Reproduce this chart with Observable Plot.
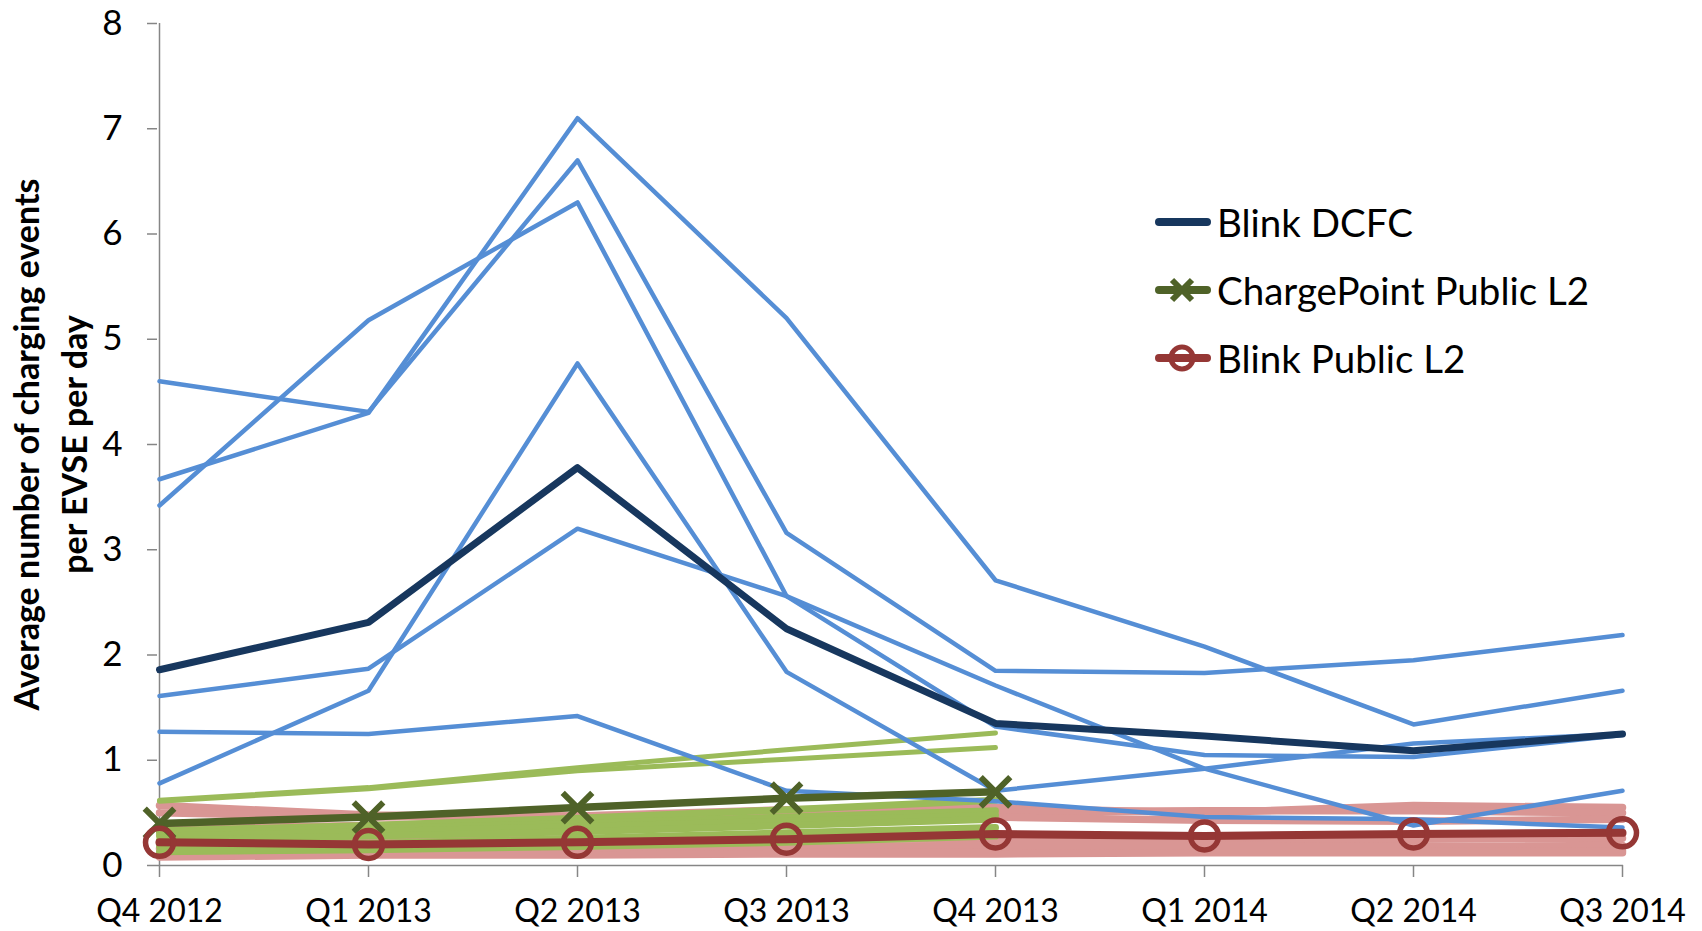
<!DOCTYPE html>
<html>
<head>
<meta charset="utf-8">
<script src="https://cdn.jsdelivr.net/npm/d3@7"></script>
<script src="https://cdn.jsdelivr.net/npm/@observablehq/plot@0.6"></script>
<style>
  html, body { margin: 0; padding: 0; background: #fff; }
  #wrap { position: relative; width: 1702px; height: 931px; font-family: Lato, "Noto Sans", sans-serif; }
  #legend { position: absolute; left: 1154px; top: 188px; font-size: 38.5px; color: #000; }
  .item { display: flex; align-items: center; height: 68px; }
  .item svg { margin-right: 5px; }
</style>
</head>
<body>
<div id="wrap"><div id="legend"></div></div>
<script>
const quarters = ["Q4 2012", "Q1 2013", "Q2 2013", "Q3 2013", "Q4 2013", "Q1 2014", "Q2 2014", "Q3 2014"];
const yTicks = [0, 1, 2, 3, 4, 5, 6, 7, 8];

const blinkDcfcAvg = [1.86, 2.31, 3.78, 2.25, 1.35, 1.23, 1.09, 1.25];
const blinkDcfcSites = [
  [4.60, 4.31, 6.70, 3.16, 1.85, 1.83, 1.95, 2.19],
  [3.67, 4.30, 7.10, 5.20, 2.71, 2.08, 1.34, 1.66],
  [3.42, 5.18, 6.30, 2.56, 1.32, 1.05, 1.03, 1.24],
  [0.78, 1.66, 4.77, 1.84, 0.71, 0.92, 1.16, 1.25],
  [1.61, 1.87, 3.20, 2.56, 1.71, 0.92, 0.38, 0.71],
  [1.27, 1.25, 1.42, 0.71, 0.61, 0.46, 0.44, 0.36]
];

const chargePointAvg = [0.40, 0.46, 0.55, 0.64, 0.70];
const chargePointSites = [
  [0.62, 0.74, 0.93, 1.10, 1.26],
  [0.61, 0.73, 0.90, 1.01, 1.12],
  [0.33, 0.38, 0.45, 0.53, 0.62],
  [0.31, 0.35, 0.40, 0.46, 0.52],
  [0.28, 0.32, 0.37, 0.42, 0.48],
  [0.24, 0.28, 0.32, 0.38, 0.44],
  [0.18, 0.21, 0.26, 0.31, 0.36],
  [0.13, 0.15, 0.18, 0.22, 0.28]
];

const blinkL2Avg = [0.22, 0.20, 0.22, 0.25, 0.30, 0.28, 0.30, 0.31];
const blinkL2Sites = [
  [0.57, 0.48, 0.47, 0.53, 0.55, 0.50, 0.57, 0.55],
  [0.50, 0.46, 0.47, 0.50, 0.51, 0.52, 0.52, 0.50],
  [0.35, 0.38, 0.42, 0.46, 0.46, 0.43, 0.42, 0.44],
  [0.22, 0.24, 0.25, 0.26, 0.25, 0.24, 0.25, 0.26],
  [0.16, 0.17, 0.17, 0.18, 0.19, 0.19, 0.18, 0.19],
  [0.11, 0.11, 0.12, 0.12, 0.13, 0.13, 0.13, 0.14],
  [0.08, 0.10, 0.10, 0.11, 0.11, 0.12, 0.12, 0.12]
];

const seriesNames = ["Blink DCFC", "ChargePoint Public L2", "Blink Public L2"];
const yTitle = "Average number of charging events\nper EVSE per day";

const colors = {
  blue: "#558ED5", navy: "#17375E",
  lightGreen: "#9BBB59", darkGreen: "#4F6228",
  pink: "#D99694", darkRed: "#953735", axis: "#868686"
};

const toRows = (sites) => sites.flatMap((vals, i) => vals.map((v, j) => ({site: i, q: quarters[j], v})));
const avgRows = (vals) => vals.map((v, j) => ({q: quarters[j], v}));

const chart = Plot.plot({
  width: 1702,
  height: 931,
  marginLeft: 157,
  marginRight: 79,
  marginTop: 23,
  marginBottom: 66,
  style: {fontFamily: "Lato, 'Noto Sans', sans-serif", background: "#fff", color: "#000"},
  x: {type: "point", domain: quarters, padding: 0, label: null},
  y: {domain: [0, 8], label: null},
  marks: [
    Plot.axisY({ticks: yTicks, tickSize: 10, tickPadding: 25, fontSize: 35, stroke: colors.axis, strokeWidth: 1.5, label: null}),
    Plot.axisX({tickSize: 12, tickPadding: 22, fontSize: 32, stroke: colors.axis, strokeWidth: 1.5, label: null}),
    Plot.ruleX([quarters[0]], {stroke: colors.axis, strokeWidth: 1.5}),
    Plot.ruleY([0], {stroke: colors.axis, strokeWidth: 1.5}),
    Plot.lineY(toRows(blinkL2Sites), {x: "q", y: "v", z: "site", stroke: colors.pink, strokeWidth: 7.5}),
    Plot.lineY(toRows(chargePointSites), {x: "q", y: "v", z: "site", stroke: colors.lightGreen, strokeWidth: (d) => d.site < 2 ? 5 : 7}),
    Plot.lineY(toRows(blinkDcfcSites), {x: "q", y: "v", z: "site", stroke: colors.blue, strokeWidth: 4.5}),
    Plot.lineY(avgRows(blinkDcfcAvg), {x: "q", y: "v", stroke: colors.navy, strokeWidth: 7}),
    Plot.lineY(avgRows(chargePointAvg), {x: "q", y: "v", stroke: colors.darkGreen, strokeWidth: 7.5}),
    Plot.dot(avgRows(chargePointAvg), {x: "q", y: "v", symbol: "times", r: 13.5, stroke: colors.darkGreen, strokeWidth: 6}),
    Plot.lineY(avgRows(blinkL2Avg), {x: "q", y: "v", stroke: colors.darkRed, strokeWidth: 8}),
    Plot.dot(avgRows(blinkL2Avg), {x: "q", y: "v", r: 14, stroke: colors.darkRed, strokeWidth: 5.5, fill: "none"}),
    Plot.text([yTitle], {frameAnchor: "left", textAnchor: "middle", lineAnchor: "middle", rotate: -90, dx: -110, fontSize: 34, fontWeight: "bold", lineHeight: 1.4, fill: "#000"})
  ]
});

const wrap = document.getElementById("wrap");
wrap.insertBefore(chart, wrap.firstChild);

const legend = document.getElementById("legend");
const legendSymbols = [
  {name: seriesNames[0], color: colors.navy, symbol: null},
  {name: seriesNames[1], color: colors.darkGreen, symbol: "times"},
  {name: seriesNames[2], color: colors.darkRed, symbol: "circle"}
];
for (const s of legendSymbols) {
  const item = document.createElement("div");
  item.className = "item";
  let marker = "";
  if (s.symbol === "times") marker = `<path d="M18,10 L38,30 M38,10 L18,30" stroke="${s.color}" stroke-width="6"/>`;
  if (s.symbol === "circle") marker = `<circle cx="28" cy="20" r="11" fill="none" stroke="${s.color}" stroke-width="5"/>`;
  item.innerHTML = `<svg width="58" height="40"><line x1="5" y1="20" x2="53" y2="20" stroke="${s.color}" stroke-width="8" stroke-linecap="round"/>${marker}</svg><span>${s.name}</span>`;
  legend.appendChild(item);
}
</script>
</body>
</html>
